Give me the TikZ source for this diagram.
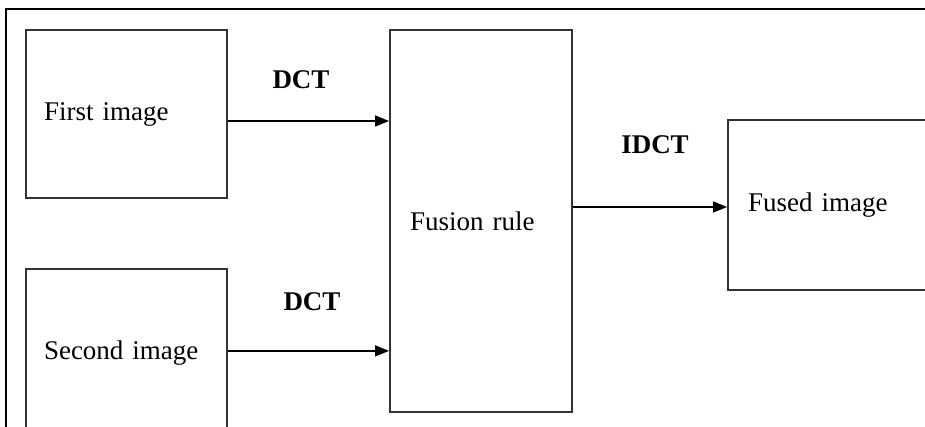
\documentclass[tikz,border=0pt]{standalone}
\usepackage{fontspec}
\setmainfont{Liberation Serif}
\usetikzlibrary{arrows.meta,positioning}
\tikzset{
    block/.style={
           rectangle,
           draw=black!80, line width=1.9pt,
           inner ysep=0pt,
           align=left,
           },
    lbl/.style={font=\fontsize{27}{32}\selectfont\bfseries, inner sep=0pt},
}

\begin{document}
\begin{tikzpicture}[x=1pt,y=1pt,->,>={Triangle[length=14pt,width=11pt]},
  line width=1.4pt, font=\fontsize{27}{32}\selectfont]

 % page frame, cut at the right and bottom
 \useasboundingbox (0,0) rectangle (925,427);
 \clip (0,0) rectangle (925,427);
 \draw[-, line width=2.6pt] (6,-5) -- (6,418) -- (930,418);

 % the two input pictures
 \node[block, text width=165pt, inner xsep=18pt, minimum height=168pt]
  at (126.5,313) (first) {First image};
 \node[block, text width=165pt, inner xsep=18pt, minimum height=168pt,
  below=69pt of first] (second) {Second image};

 % fusion stage and result
 \node[block, text width=142pt, inner xsep=20pt, minimum height=382pt]
  at (481,206) (fusion) {Fusion rule};
 \node[block, text width=160pt, inner xsep=20pt, minimum height=170pt]
  at (828,222) (fused) {Fused image};

 % transforms on the arrows
 \draw ([yshift=-7pt]first.east) -- node[lbl, above=32pt, xshift=-7.5pt]{DCT}
  ([yshift=-7pt]first.east -| fusion.west);
 \draw ([yshift=2pt]second.east) -- node[lbl, above=39pt, xshift=3.5pt]{DCT}
  ([yshift=2pt]second.east -| fusion.west);
 \draw ([yshift=-2pt]fusion.east |- fused.west) -- node[lbl, above=53pt, xshift=5pt]{IDCT}
  ([yshift=-2pt]fused.west);

\end{tikzpicture}
\end{document}
